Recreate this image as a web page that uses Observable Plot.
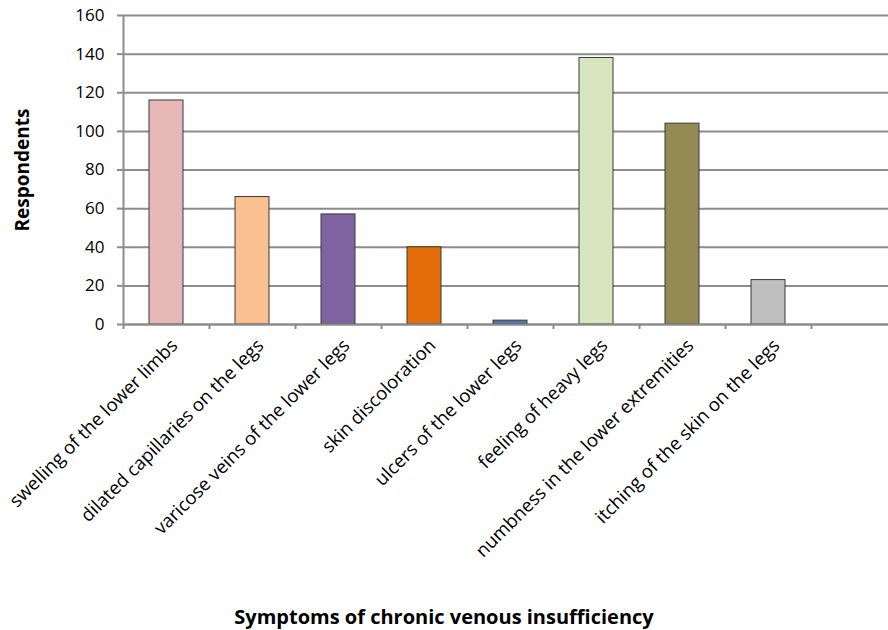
<!DOCTYPE html>
<html>
<head>
<meta charset="utf-8">
<script src="https://cdn.jsdelivr.net/npm/d3@7"></script>
<script src="https://cdn.jsdelivr.net/npm/@observablehq/plot@0.6"></script>
<style>
  html, body { margin: 0; padding: 0; background: #fff; }
  #chart { width: 888px; height: 630px; overflow: hidden; }
  #chart svg { overflow: hidden; display: block; }
  #xtitle { width: 888px; height: 38px; line-height: 50px; text-align: center;
            font-family: 'Open Sans', sans-serif; font-weight: bold; font-size: 20px; color: #000; }
</style>
</head>
<body>
<div id="chart"></div>
<script>
const categories = [
  "swelling of the lower limbs",
  "dilated capillaries on the legs",
  "varicose veins of the lower legs",
  "skin discoloration",
  "ulcers of the lower legs",
  "feeling of heavy legs",
  "numbness in the lower extremities",
  "itching of the skin on the legs"
];
const respondents = [116, 66, 57, 40, 2, 138, 104, 23];
const barColors = ["#E6B9B8", "#FAC090", "#8064A2", "#E46C0A", "#5573A6", "#D7E4BD", "#948A54", "#BFBFBF"];
const yTicks = [0, 20, 40, 60, 80, 100, 120, 140, 160];
const slots = [...categories, ""];
const yTitle = "Respondents";
const xTitle = "Symptoms of chronic venous insufficiency";

const data = categories.map((c, i) => ({category: c, value: respondents[i], color: barColors[i]}));
const grid = "#8c8c8c";
const font = "'Open Sans', sans-serif";

const plot = Plot.plot({
  width: 888,
  height: 592,
  marginLeft: 123,
  marginRight: 0,
  marginTop: 15,
  marginBottom: 268,
  style: {fontFamily: font, background: "white", color: "#000"},
  x: {domain: slots, range: [123, 897], paddingInner: 0.6, paddingOuter: 0.3},
  y: {domain: [0, 160]},
  marks: [
    Plot.gridY(yTicks, {stroke: grid, strokeOpacity: 1, strokeWidth: 2}),
    Plot.barY(data, {x: "category", y: "value", fill: "color", stroke: "#3a3a3a", strokeWidth: 1}),
    Plot.ruleY([0], {stroke: grid, strokeWidth: 2}),
    Plot.ruleX([slots[0]], {stroke: grid, strokeWidth: 2, dx: -43}),
    Plot.axisY({ticks: yTicks, tickSize: 6, tickPadding: 13, fontSize: 17, stroke: grid, strokeWidth: 2, label: null}),
    Plot.axisY({ticks: [], tickSize: 0, label: yTitle, labelAnchor: "center", labelArrow: "none", labelOffset: 108, fontSize: 19, fontWeight: "bold"}),
    Plot.axisX({ticks: slots, tickSize: 5, fill: "none", stroke: grid, strokeWidth: 2, dx: -43, label: null}),
    Plot.axisX({ticks: slots, tickSize: 0, tickRotate: -45, tickPadding: 18, dx: 8, fontSize: 18.5, label: null})
  ]
});
document.getElementById("chart").appendChild(plot);
const t = document.createElement("div");
t.id = "xtitle";
t.textContent = xTitle;
document.getElementById("chart").appendChild(t);
</script>
</body>
</html>
